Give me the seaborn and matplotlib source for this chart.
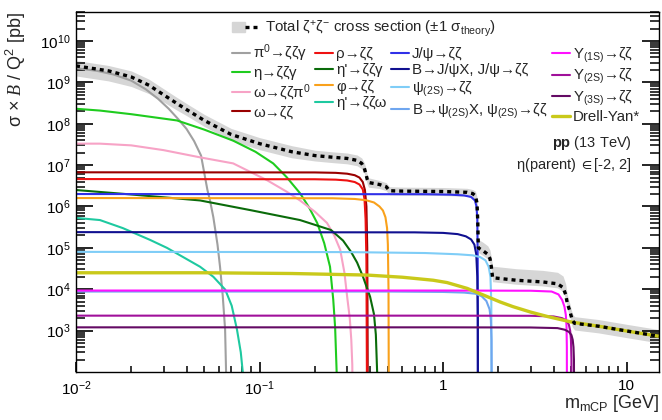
import numpy as np
import pandas as pd
import matplotlib
matplotlib.use("Agg")
import matplotlib.pyplot as plt
import seaborn as sns
from matplotlib.lines import Line2D
from matplotlib.patches import Patch
from matplotlib.legend_handler import HandlerTuple
from matplotlib.ticker import FixedLocator, NullFormatter

# values (mass in GeV, sigma*B/Q^2 in pb)
pi0_m = [0.01, 0.013, 0.016, 0.02, 0.024, 0.028, 0.032, 0.036, 0.04, 0.044, 0.048, 0.052, 0.0537, 0.056, 0.059, 0.0609, 0.063, 0.0649, 0.0657, 0.066]
pi0_y = [2.2e9, 1.9e9, 1.55e9, 1.1e9, 6.8e8, 4.0e8, 2.3e8, 1.3e8, 7.5e7, 3.8e7, 1.7e7, 2.5e6, 1.4e6, 5.5e5, 1.2e5, 3.5e4, 7e3, 1.07e3, 1e2, 1]

eta_m = [0.01, 0.0135, 0.02, 0.0355, 0.05, 0.0718, 0.095, 0.1186, 0.14, 0.166, 0.186, 0.206, 0.225, 0.242, 0.252, 0.258, 0.263, 0.266]
eta_y = [2.3e8, 2.08e8, 1.7e8, 1.2e8, 7.2e7, 3.9e7, 2.1e7, 1.1e7, 5.2e6, 2.1e6, 9.5e5, 4.0e5, 1.3e5, 3.5e4, 5.6e3, 1.2e3, 1e2, 1]

omd_m = [0.01, 0.0135, 0.02, 0.03, 0.0474, 0.0718, 0.11, 0.14, 0.166, 0.2, 0.233, 0.255, 0.275, 0.29, 0.30, 0.31, 0.316, 0.32, 0.323]
omd_y = [3.3e7, 3.3e7, 3.0e7, 2.3e7, 1.54e7, 1.1e7, 4.3e6, 2.3e6, 1.4e6, 7.5e5, 4.0e5, 2.0e5, 9.0e4, 2.5e4, 6.6e3, 2.0e3, 6e2, 1.5e2, 1]

omg_m = [0.01, 0.2, 0.26, 0.3, 0.33, 0.35, 0.365, 0.375, 0.382, 0.386, 0.39]
omg_y = [6.7e6, 6.65e6, 6.5e6, 6.2e6, 5.7e6, 5.0e6, 3.9e6, 2.5e6, 1e6, 1e5, 1]

rho_m = [0.01, 0.2, 0.26, 0.3, 0.33, 0.35, 0.365, 0.373, 0.378, 0.382, 0.386]
rho_y = [4.6e6, 4.55e6, 4.45e6, 4.25e6, 3.9e6, 3.4e6, 2.6e6, 1.5e6, 5e5, 5e4, 1]

etd_m = [0.01, 0.02, 0.0474, 0.0887, 0.166, 0.245, 0.285, 0.315, 0.34, 0.366, 0.40, 0.42, 0.43, 0.437, 0.442]
etd_y = [2.5e6, 1.95e6, 1.4e6, 8.2e5, 4.7e5, 2.7e5, 1.5e5, 8e4, 4.4e4, 2.0e4, 6.6e3, 2.5e3, 8e2, 1e2, 1]

phi_m = [0.01, 0.25, 0.33, 0.38, 0.42, 0.45, 0.47, 0.485, 0.495, 0.5, 0.504, 0.507]
phi_y = [1.6e6, 1.58e6, 1.52e6, 1.42e6, 1.25e6, 1.0e6, 8.0e5, 5.5e5, 3.0e5, 1.2e5, 1e4, 1]

etw_m = [0.01, 0.0135, 0.018, 0.0253, 0.0313, 0.0383, 0.0474, 0.056, 0.065, 0.0705, 0.0753, 0.079, 0.081, 0.0825]
etw_y = [5.3e5, 4.7e5, 3.0e5, 1.56e5, 1.0e5, 6e4, 3.5e4, 2.0e4, 9.8e3, 4e3, 1.07e3, 3e2, 1e2, 1]

jpsi_m = [0.01, 0.8, 1.1, 1.3, 1.42, 1.49, 1.52, 1.535, 1.543, 1.548]
jpsi_y = [2.0e6, 1.98e6, 1.93e6, 1.85e6, 1.7e6, 1.4e6, 1.0e6, 5e5, 5e4, 1]

bjp_m = [0.01, 0.7, 1.0, 1.2, 1.33, 1.42, 1.48, 1.515, 1.535, 1.545, 1.548]
bjp_y = [2.4e5, 2.37e5, 2.3e5, 2.15e5, 1.9e5, 1.6e5, 1.2e5, 7e4, 2e4, 2e3, 1]

psi_m = [0.01, 0.3, 0.8, 1.2, 1.45, 1.59, 1.7, 1.77, 1.81, 1.83, 1.84]
psi_y = [8.0e4, 7.9e4, 7.5e4, 7.0e4, 6.6e4, 6.0e4, 5.0e4, 3.5e4, 2.0e4, 5e3, 1]

bps_m = [0.01, 0.5, 1.0, 1.3, 1.5, 1.62, 1.72, 1.79, 1.82, 1.835, 1.843]
bps_y = [8.8e3, 8.8e3, 8.6e3, 8.3e3, 7.8e3, 6.8e3, 5.2e3, 3.3e3, 1.8e3, 6e2, 1]

ups1_m = [0.01, 1.0, 3.0, 3.9, 4.25, 4.45, 4.58, 4.66, 4.7, 4.72, 4.73]
ups1_y = [9.3e3, 9.3e3, 9.2e3, 8.8e3, 7.5e3, 5.5e3, 3.8e3, 2.4e3, 1.3e3, 4e2, 1]

ups2_m = [0.01, 1.0, 3.0, 4.0, 4.45, 4.7, 4.84, 4.92, 4.97, 5.0, 5.012]
ups2_y = [2.3e3, 2.3e3, 2.28e3, 2.2e3, 2.0e3, 1.75e3, 1.4e3, 1.0e3, 6e2, 2e2, 1]

ups3_m = [0.01, 1.0, 3.0, 4.2, 4.6, 4.85, 5.0, 5.08, 5.13, 5.16, 5.178]
ups3_y = [1.2e3, 1.2e3, 1.19e3, 1.15e3, 1.05e3, 9.3e2, 7.8e2, 6e2, 4e2, 2e2, 1]

dy_m = [0.01, 0.05, 0.15, 0.386, 0.6, 0.883, 1.05, 1.35, 1.65, 2.05, 2.4, 3.0, 3.69, 4.97, 7.0, 10.0, 15.0]
dy_y = [2.5e4, 2.5e4, 2.4e4, 2.2e4, 1.95e4, 1.65e4, 1.45e4, 1.05e4, 7.3e3, 4.9e3, 3.8e3, 2.8e3, 2.2e3, 1.62e3, 1.28e3, 9.8e2, 7.3e2]

tot_m = [0.01, 0.015, 0.02, 0.025, 0.03, 0.035, 0.04, 0.05, 0.07, 0.1, 0.15, 0.2, 0.25, 0.3, 0.34, 0.36, 0.372, 0.38,
         0.386, 0.392, 0.45, 0.49, 0.51, 0.6, 1.0, 1.35, 1.45, 1.5, 1.53, 1.545, 1.555, 1.65, 1.75, 1.8, 1.83, 1.86,
         2.5, 3.5, 4.2, 4.5, 4.65, 4.75, 4.9, 5.05, 5.2, 7.0, 10.0, 15.0]
tot_y = [2.5e9, 1.9e9, 1.35e9, 8.5e8, 5.0e8, 3.2e8, 2.2e8, 1.2e8, 5.5e7, 3.3e7, 2.1e7, 1.7e7, 1.55e7, 1.45e7, 1.3e7, 1.1e7, 8.5e6, 6.0e6,
         4.5e6, 3.8e6, 3.4e6, 3.0e6, 2.4e6, 2.35e6, 2.3e6, 2.2e6, 2.05e6, 1.8e6, 1.2e6, 4e5, 1.0e5, 8.5e4, 7.0e4, 5.5e4, 3.5e4, 1.9e4,
         1.65e4, 1.5e4, 1.35e4, 1.1e4, 7.5e3, 4.5e3, 3.0e3, 1.8e3, 1.5e3, 1.28e3, 9.8e2, 7.3e2]
# theory band, as factors up / down from the total
band_up = [1.35, 1.35, 1.4, 1.4, 1.4, 1.4, 1.4, 1.4, 1.4, 1.4, 1.4, 1.35, 1.35, 1.35, 1.35, 1.35, 1.35, 1.35,
           1.3, 1.3, 1.25, 1.25, 1.25, 1.25, 1.25, 1.25, 1.25, 1.3, 1.4, 1.5, 1.6, 1.6, 1.6, 1.6, 1.7, 1.9,
           1.9, 1.9, 1.9, 1.9, 1.8, 1.6, 1.5, 1.45, 1.45, 1.45, 1.45, 1.45]
band_dn = [1.75, 1.75, 1.7, 1.6, 1.5, 1.45, 1.4, 1.4, 1.4, 1.4, 1.4, 1.35, 1.35, 1.35, 1.35, 1.35, 1.35, 1.35,
           1.3, 1.3, 1.25, 1.25, 1.25, 1.25, 1.25, 1.25, 1.25, 1.25, 1.3, 1.3, 1.3, 1.3, 1.3, 1.3, 1.3, 1.25,
           1.25, 1.25, 1.25, 1.25, 1.3, 1.35, 1.4, 1.45, 1.45, 1.45, 1.45, 1.45]

xtick_vals = [0.01, 0.1, 1, 10]
xtick_labels = ["$10^{-2}$", "$10^{-1}$", "1", "10"]
ytick_vals = [1e3, 1e4, 1e5, 1e6, 1e7, 1e8, 1e9, 1e10]
ytick_labels = ["$10^{%d}$" % k for k in range(3, 11)]
minor_subs = [2, 3, 4, 5, 6, 7, 8, 9]

# legend order is column-major (4 columns)
curves = [
    ("π$^{0}$→ζζγ", pi0_m, pi0_y, "#a0a0a0", 1.5),
    ("η→ζζγ", eta_m, eta_y, "#1fcc1f", 1.5),
    ("ω→ζζπ$^{0}$", omd_m, omd_y, "#f7a3c6", 1.5),
    ("ω→ζζ", omg_m, omg_y, "#990000", 1.5),
    ("ρ→ζζ", rho_m, rho_y, "#ee1111", 1.5),
    ("η'→ζζγ", etd_m, etd_y, "#0a6b0a", 1.5),
    ("φ→ζζ", phi_m, phi_y, "#f9a11b", 1.5),
    ("η'→ζζω", etw_m, etw_y, "#1ec9a0", 1.5),
    ("J/ψ→ζζ", jpsi_m, jpsi_y, "#3030e8", 1.5),
    ("B→J/ψX, J/ψ→ζζ", bjp_m, bjp_y, "#101090", 1.5),
    ("ψ$_{(2S)}$→ζζ", psi_m, psi_y, "#7fcdf7", 1.5),
    ("B→ψ$_{(2S)}$X, ψ$_{(2S)}$→ζζ", bps_m, bps_y, "#6fa6ef", 1.5),
    ("Υ$_{(1S)}$→ζζ", ups1_m, ups1_y, "#ff10ff", 1.5),
    ("Υ$_{(2S)}$→ζζ", ups2_m, ups2_y, "#a0109a", 1.5),
    ("Υ$_{(3S)}$→ζζ", ups3_m, ups3_y, "#640a64", 1.5),
    ("Drell-Yan*", dy_m, dy_y, "#c9c91a", 2.4),
]

sns.set_theme(style="ticks")
plt.rcParams['font.family'] = ['Liberation Sans', 'DejaVu Sans']
plt.rcParams['mathtext.fontset'] = 'custom'
plt.rcParams['mathtext.rm'] = 'Liberation Sans'
plt.rcParams['mathtext.it'] = 'Liberation Serif:italic'
plt.rcParams['mathtext.bf'] = 'Liberation Sans:bold'
plt.rcParams['mathtext.default'] = 'regular'
plt.rcParams['axes.axisbelow'] = False

fig = plt.figure(figsize=(6.62, 4.2), dpi=100)
ax = fig.add_axes([0.1148, 0.1143, 0.8807, 0.857])
ax.set(xscale="log", yscale="log")
ax.set_axisbelow(False)

band_hi = np.array(tot_y) * np.array(band_up)
band_lo = np.array(tot_y) / np.array(band_dn)
ax.fill_between(tot_m, band_lo, band_hi, color="#d6d6d6", lw=0, zorder=1)

handles = []
for name, m, y, col, lw in curves:
    sns.lineplot(x=m, y=y, ax=ax, color=col, linewidth=lw, estimator=None, sort=False, zorder=3)
    handles.append(Line2D([], [], color=col, lw=lw))

sns.lineplot(x=tot_m, y=tot_y, ax=ax, color="black", linewidth=2.4, linestyle=(0, (1.2, 1.2)),
             estimator=None, sort=False, zorder=5)

ax.set_xlim(0.01, 15)
ax.set_ylim(1e2, 5e10)
ax.set_xticks(xtick_vals, xtick_labels)
ax.set_yticks(ytick_vals, ytick_labels)
# explicit minor tick positions (2..9 in every decade)
x_minor = [s * 10.0 ** k for k in range(-2, 2) for s in minor_subs]
y_minor = [s * 10.0 ** k for k in range(2, 11) for s in minor_subs]
ax.xaxis.set_minor_locator(FixedLocator(x_minor))
ax.yaxis.set_minor_locator(FixedLocator(y_minor))
ax.xaxis.set_minor_formatter(NullFormatter())
ax.yaxis.set_minor_formatter(NullFormatter())
ax.tick_params(which="both", direction="in", top=False, right=True, labelsize=11,
               color="black", labelcolor="black")
ax.tick_params(axis="y", which="major", length=12, width=1.2, pad=4)
ax.tick_params(axis="y", which="minor", length=6.5, width=1.1, left=True, right=True)
ax.tick_params(axis="x", which="major", length=7.5, width=1.2, pad=5)
ax.tick_params(axis="x", which="minor", length=4.5, width=1.1, bottom=True)
for s in ax.spines.values():
    s.set_linewidth(1.0)
    s.set_color("black")
    s.set_zorder(6)

ax.set_xlabel("m$_{\\rm mCP}$ [GeV]", fontsize=13, loc="right")
ax.xaxis.set_label_coords(1.0, -0.058)
ax.set_ylabel("σ × $\\mathit{B}$ / Q$^{2}$ [pb]", fontsize=13, loc="top")
ax.yaxis.set_label_coords(-0.082, 1.0)

# total entry on its own row
tot_handle = (Patch(color="#d6d6d6"), Line2D([], [], color="black", lw=2.4, linestyle=(0, (1.2, 1.2))))
leg0 = ax.legend([tot_handle], ["Total ζ$^{+}$ζ$^{-}$ cross section (±1 σ$_{\\rm theory}$)"],
                 handler_map={tuple: HandlerTuple(ndivide=None, pad=0)},
                 loc="upper left", bbox_to_anchor=(0.2676, 0.982), frameon=False, fontsize=10.8,
                 borderpad=0, borderaxespad=0, handlelength=1.75, handletextpad=0.45)
ax.add_artist(leg0)
ax.legend(handles, [c[0] for c in curves], ncol=4, loc="upper left", bbox_to_anchor=(0.2676, 0.915),
          frameon=False, fontsize=10.8, borderpad=0, borderaxespad=0, handlelength=1.2,
          handletextpad=0.2, columnspacing=0.3, labelspacing=0.15)

ax.text(0.954, 0.636, "$\\mathbf{pp}$ (13 TeV)", transform=ax.transAxes, ha="right", va="center", fontsize=10.5)
ax.text(0.954, 0.575, "η(parent) $\\in$[-2, 2]", transform=ax.transAxes, ha="right", va="center", fontsize=10.5)

fig.savefig("out.png", dpi=100)
